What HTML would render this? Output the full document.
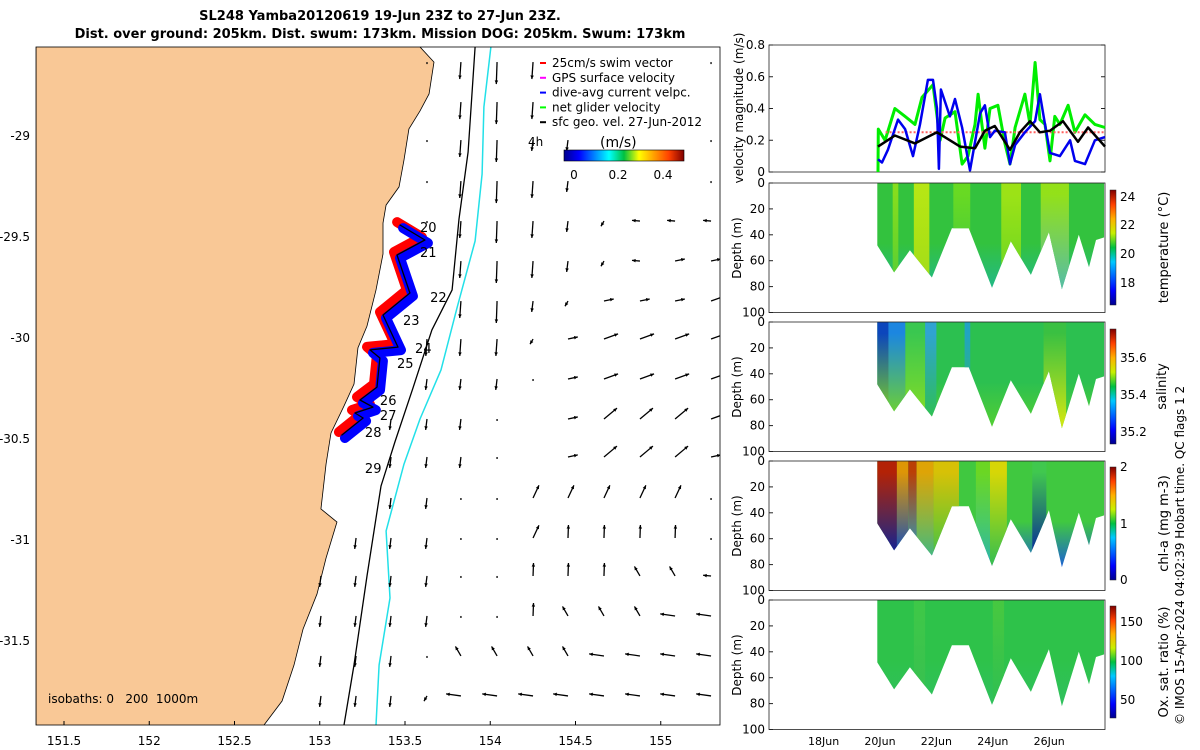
<!DOCTYPE html>
<html><head><meta charset="utf-8"><style>
html,body{margin:0;padding:0;background:#fff;}
svg{display:block;font-family:"DejaVu Sans","Liberation Sans",sans-serif;}
</style></head><body>
<svg id="s" width="1200" height="750" viewBox="0 0 1200 750" xmlns="http://www.w3.org/2000/svg">
<defs>
<linearGradient id="jet" x1="0" x2="1" y1="0" y2="0">
<stop offset="0" stop-color="#00008f"/><stop offset="0.125" stop-color="#0000ff"/><stop offset="0.375" stop-color="#00ffff"/><stop offset="0.5" stop-color="#00c040"/><stop offset="0.625" stop-color="#ffff00"/><stop offset="0.875" stop-color="#ff4000"/><stop offset="1" stop-color="#800000"/></linearGradient>
<linearGradient id="jetv" x1="0" x2="0" y1="1" y2="0">
<stop offset="0" stop-color="#00008f"/><stop offset="0.125" stop-color="#0000ff"/><stop offset="0.375" stop-color="#00c8ff"/><stop offset="0.5" stop-color="#00c040"/><stop offset="0.625" stop-color="#c8f000"/><stop offset="0.75" stop-color="#ffb000"/><stop offset="0.875" stop-color="#ff4000"/><stop offset="1" stop-color="#800000"/></linearGradient>
<clipPath id="mapclip"><rect x="36" y="47" width="684" height="678"/></clipPath>
</defs>
<text x="380" y="20" text-anchor="middle" font-size="13" font-weight="bold">SL248 Yamba20120619 19-Jun 23Z to 27-Jun 23Z.</text>
<text x="380" y="38" text-anchor="middle" font-size="13" font-weight="bold">Dist. over ground: 205km. Dist. swum: 173km. Mission DOG: 205km. Swum: 173km</text>
<g id="map" clip-path="url(#mapclip)"></g>
<g id="right"></g>
</svg>
<script>
const NS="http://www.w3.org/2000/svg";
// ---- map data ----
const lonTicks=[151.5,152,152.5,153,153.5,154,154.5,155];
const latTicks=[-29,-29.5,-30,-30.5,-31,-31.5];
const coastLon=[153.588,153.670,153.641,153.588,153.523,153.494,153.465,153.389,153.371,153.371,153.330,153.277,153.224,153.201,153.142,153.066,153.037,153.007,153.101,153.037,152.984,152.902,152.849,152.779,152.673];
const coastLat=[-28.564,-28.639,-28.797,-28.881,-28.970,-29.124,-29.257,-29.347,-29.436,-29.589,-29.767,-29.946,-30.054,-30.233,-30.342,-30.475,-30.629,-30.851,-30.916,-31.094,-31.272,-31.446,-31.624,-31.802,-31.921];
const iso200Lon=[153.911,153.870,153.817,153.776,153.658,153.547,153.441,153.359,153.277,153.201,153.142];
const iso200Lat=[-28.564,-29.084,-29.416,-29.767,-29.965,-30.252,-30.520,-30.738,-31.183,-31.624,-31.921];
const iso1000Lon=[154.004,153.963,153.952,153.911,153.805,153.711,153.588,153.494,153.389,153.412,153.348,153.330];
const iso1000Lat=[-28.564,-28.861,-29.193,-29.525,-29.856,-30.163,-30.406,-30.629,-30.960,-31.292,-31.624,-31.921];
const trackLon=[153.471,153.617,153.453,153.529,153.371,153.459,153.295,153.353,153.336,153.236,153.312,153.207,153.254,153.130];
const trackLat=[-29.446,-29.520,-29.594,-29.782,-29.891,-30.050,-30.064,-30.104,-30.248,-30.312,-30.347,-30.376,-30.401,-30.485];
const dayLabels=["20","21","22","23","24","25","26","27","28","29"];
const dayLon=[153.588,153.588,153.647,153.488,153.559,153.453,153.353,153.353,153.265,153.265];
const dayLat=[-29.480,-29.604,-29.827,-29.941,-30.079,-30.153,-30.337,-30.411,-30.495,-30.673];
const vecLon=[153.007,153.213,153.418,153.629,153.828,154.040,154.251,154.456,154.667,154.878,155.084,155.295];
const vecLat=[-28.639,-28.837,-29.025,-29.228,-29.426,-29.624,-29.822,-30.010,-30.208,-30.406,-30.594,-30.797,-30.995,-31.183,-31.381,-31.579,-31.777];
const vecCodes=["...oMLM....o","....MLM.....","...oMLss...o","...oMLMs...o","...oMLMsvwww","....MLMsvwee","....MLsveeeE","...MMMveEEEE","...sssoeEEEE","..ssso.eNNNE","..ssso.eNNNe","..ssoonnnnno",".sssoonuuuuo","ssssoouuuxxw","ssssoouxxxWW","sssoxxxxWWWW","sssvWWWWWWWW"];
const codeAng={o:[90,2],L:[92,22],M:[94,17],s:[97,11],v:[120,6],w:[185,8],e:[-12,10],E:[-20,15],N:[-40,17],n:[-65,14],u:[-88,13],x:[-120,11],W:[188,15]};
// ---- time-series data ----
const timeTicks=[18,20,22,24,26];
const velTicks=[0,0.2,0.4,0.6,0.8];
const blackT=[19.93,20.53,21.24,22.02,22.84,23.37,23.72,24.07,24.61,24.96,25.32,25.67,26.03,26.49,27.02,27.38,27.98];
const blackV=[0.16,0.23,0.18,0.25,0.16,0.15,0.26,0.29,0.14,0.25,0.32,0.25,0.26,0.32,0.19,0.28,0.16];
const blueT=[19.93,20.07,20.28,20.64,20.89,21.17,21.42,21.70,21.88,22.02,22.09,22.16,22.48,22.66,22.91,23.19,23.55,23.72,23.90,24.07,24.43,24.61,24.79,25.14,25.50,25.67,25.85,26.03,26.38,26.74,26.91,27.27,27.62,27.98];
const blueV=[0.08,0.06,0.14,0.33,0.27,0.10,0.30,0.58,0.58,0.40,0.02,0.52,0.35,0.46,0.28,0.01,0.37,0.42,0.22,0.26,0.25,0.05,0.17,0.25,0.32,0.49,0.30,0.12,0.10,0.20,0.07,0.05,0.20,0.22];
const greenT=[19.93,19.94,20.18,20.53,20.89,21.24,21.49,21.88,22.13,22.31,22.66,22.91,23.12,23.37,23.48,23.72,23.90,24.18,24.43,24.61,24.79,25.14,25.32,25.50,25.67,25.85,26.03,26.20,26.38,26.67,26.91,27.27,27.62,27.98];
const greenV=[0.00,0.27,0.20,0.40,0.35,0.30,0.47,0.55,0.20,0.34,0.38,0.05,0.10,0.30,0.49,0.15,0.40,0.42,0.18,0.05,0.28,0.49,0.30,0.69,0.33,0.30,0.07,0.35,0.30,0.42,0.25,0.36,0.30,0.28];
const swimV=0.25;
const profT=[19.9,20.5,21.06,21.84,22.55,23.15,23.97,24.64,25.35,25.99,26.45,27.05,27.41,27.66,27.95];
const profD=[48,69,52,73,35,35,81,45,71,38,82,40,65,44,42];
const depthTicks=[0,20,40,60,80,100];

const svg=document.getElementById('s');
const map=document.getElementById('map');
const right=document.getElementById('right');
function el(tag,attrs,parent,txt){const e=document.createElementNS(NS,tag);for(const k in attrs)e.setAttribute(k,attrs[k]);if(txt!==undefined)e.textContent=txt;(parent||svg).appendChild(e);return e;}
const X=lon=>64+(lon-151.5)*170.5;
const Y=lat=>135+(-29-lat)*202;
el('rect',{x:36,y:47,width:684,height:678,fill:'#fff',},map);
let pts='36,40 '+X(coastLon[0])+',40 ';for(let i=0;i<coastLon.length;i++)pts+=X(coastLon[i])+','+Y(coastLat[i])+' ';pts+=X(coastLon[coastLon.length-1])+',740 36,740';
el('polygon',{points:pts,fill:'#f9c896',stroke:'#000','stroke-width':0.8,},map);
function line(lons,lats,stroke,w,name){let d='';for(let i=0;i<lons.length;i++)d+=(i?'L':'M')+X(lons[i]).toFixed(1)+' '+Y(lats[i]).toFixed(1);const p=el('path',{d:d,fill:'none',stroke:stroke,'stroke-width':w,'stroke-linejoin':'round','stroke-linecap':'round'},map);return p;}
line(iso200Lon,iso200Lat,'#000',1.3,'isobath-200m');
line(iso1000Lon,iso1000Lat,'#22e0e8',1.5,'isobath-1000m');
for(let r=0;r<vecLat.length;r++){for(let c=0;c<vecLon.length;c++){const ch=vecCodes[r][c];if(ch==='.')continue;const a=codeAng[ch];const x0=X(vecLon[c]),y0=Y(vecLat[r]);const ang=a[0]*Math.PI/180;const x1=x0+a[1]*Math.cos(ang),y1=y0+a[1]*Math.sin(ang);
const g=el('g',{},map);
el('line',{x1:x0,y1:y0,x2:x1,y2:y1,stroke:'#000','stroke-width':1.3},g);
if(a[1]>4){const h=4,ha=0.45;el('polygon',{points:`${x1},${y1} ${x1-h*Math.cos(ang-ha)},${y1-h*Math.sin(ang-ha)} ${x1-h*Math.cos(ang+ha)},${y1-h*Math.sin(ang+ha)}`,fill:'#000'},g);}}}
line(trackLon,trackLat,'#ff0000',10,'swim-track-red').setAttribute('transform','translate(-3,-3)');
line(trackLon,trackLat,'#0000ff',10,'dive-avg-track-blue').setAttribute('transform','translate(3,3)');
line(trackLon,trackLat,'#000',1.3,'glider-track');
for(let i=0;i<dayLabels.length;i++){const t=el('text',{x:X(dayLon[i]),y:Y(dayLat[i]),'font-size':13},map,dayLabels[i]);}
const legItems=[['#ff0000','25cm/s swim vector'],['#ff00ff','GPS surface velocity'],['#0000ff','dive-avg current velpc.'],['#00ff00','net glider velocity'],['#000','sfc geo. vel. 27-Jun-2012']];
legItems.forEach((it,i)=>{const y=63+i*14.8;const g=el('g',{},svg);el('line',{x1:540,x2:546,y1:y,y2:y,stroke:it[0],'stroke-width':2},g);el('text',{x:552,y:y+4,'font-size':12},g,it[1]);});
el('text',{x:528,y:146,'font-size':12,},svg,'4h');
el('text',{x:600,y:147,'font-size':14,},svg,'(m/s)');
el('rect',{x:564,y:150,width:120,height:11,fill:'url(#jet)',stroke:'#000','stroke-width':0.6,},svg);
[['0',574],['0.2',618],['0.4',663]].forEach(a=>el('text',{x:a[1],y:179,'font-size':12,'text-anchor':'middle',},svg,a[0]));
el('text',{x:48,y:703,'font-size':12,},svg,'isobaths: 0\u00a0\u00a0\u00a0200\u00a0\u00a01000m');
el('rect',{x:36,y:47,width:684,height:678,fill:'none',stroke:'#000','stroke-width':0.8,},svg);
lonTicks.forEach(v=>{const t=el('text',{x:X(v),y:745,'font-size':12,'text-anchor':'middle'},svg,String(v));el('line',{x1:X(v),x2:X(v),y1:725,y2:721,stroke:'#000'},svg);});
latTicks.forEach(v=>{const t=el('text',{x:30,y:Y(v)+5,'font-size':12,'text-anchor':'end'},svg,String(v));});
// ---- right panels ----
const TX=d=>880+(d-20)*28.2;
const PL=769,PR=1105;
const VY=v=>172-v*158.75;
el('rect',{x:PL,y:45,width:PR-PL,height:127,fill:'#fff',stroke:'#222','stroke-width':0.8,},right);
velTicks.forEach(v=>{const t=el('text',{x:765,y:VY(v)+4,'font-size':12,'text-anchor':'end'},right,String(v));el('line',{x1:PL,x2:PL+4,y1:VY(v),y2:VY(v),stroke:'#222'},right);el('line',{x1:PR,x2:PR-4,y1:VY(v),y2:VY(v),stroke:'#222'},right);});
el('text',{transform:'translate(743,108) rotate(-90)','font-size':12,'text-anchor':'middle',},right,'velocity magnitude (m/s)');
function series(T,V,stroke,w,name,dash){let d='';for(let i=0;i<T.length;i++)d+=(i?'L':'M')+TX(T[i]).toFixed(1)+' '+VY(V[i]).toFixed(1);const p=el('path',{d:d,fill:'none',stroke:stroke,'stroke-width':w,'stroke-linejoin':'round'},right);if(dash)p.setAttribute('stroke-dasharray',dash);}
series(greenT,greenV,'#00ee00',3,'net-glider-velocity-line');
series([20.2,27.98],[swimV,swimV],'#ff6060',2,'swim-velocity-line','2,2');
series(blueT,blueV,'#0000ee',2.5,'dive-avg-velocity-line');
series(blackT,blackV,'#000',2.5,'surface-geostrophic-line');
const panels=[
 {top:183,name:'temperature',label:'temperature (°C)',cb:[190,305],ticks:[['24',197],['22',225],['20',254],['18',283]],base:'#33c23e',deep:'#20b890',
  bands:[[20.45,20.65,'#8fe01a','#5cd030'],[21.2,21.75,'#c4ea10','#b0e010'],[22.6,23.2,'#6edc20','#40c840'],[24.3,25.0,'#a8e612','#70d820'],[25.7,26.7,'#9ee415','#60c0a0']]},
 {top:322,name:'salinity',label:'salinity',cb:[329,444],ticks:[['35.6',358],['35.4',395],['35.2',432]],base:'#2cc050',deep:'#58d030',
  bands:[[19.9,20.3,'#0838c8','#90e010'],[20.3,20.9,'#1a80f0','#7ad820'],[20.9,21.6,'#3cc850','#90e020'],[21.6,22.0,'#30a0e0','#2cc050'],[23.0,23.2,'#20a0d0','#30c050'],[25.8,26.6,'#3cc040','#d8e810']]},
 {top:461,name:'chl-a',label:'chl-a (mg m-3)',cb:[467,580],ticks:[['2',467],['1',524],['0',580]],base:'#40c840',deep:'#1858e0',
  bands:[[19.9,20.6,'#c01000','#0018a0'],[20.6,21.0,'#f09000','#0040d0'],[21.0,21.3,'#c83000','#20a0d0'],[21.3,21.9,'#f0a000','#40c080'],[21.9,22.8,'#e8c000','#40c840'],[23.4,23.9,'#70d820','#30c0a0'],[23.9,24.5,'#e8d800','#40c840'],[25.4,25.9,'#40c850','#0010a0']]},
 {top:600,name:'oxygen',label:'Ox. sat. ratio (%)',cb:[606,718],ticks:[['150',622],['100',661],['50',700]],base:'#2ec24a',deep:'#30c060',bands:[[21.2,21.6,'#40c848','#38c050'],[24.0,24.4,'#48c840','#30c050']]}];
const defs=svg.querySelector('defs');
panels.forEach((P,pi)=>{
 const DY=d=>P.top+d*1.295;
 const g=el('g',{},right);
 const cp=el('clipPath',{id:'cp'+pi},defs);
 let pp=TX(profT[0])+','+P.top+' ';profT.forEach((t,i)=>pp+=TX(t).toFixed(1)+','+DY(profD[i]).toFixed(1)+' ');pp+=TX(profT[profT.length-1])+','+P.top;
 el('polygon',{points:pp},cp);
 const lg=el('linearGradient',{id:'bg'+pi,x1:0,x2:0,y1:0,y2:1},defs);el('stop',{offset:0.55,'stop-color':P.base},lg);el('stop',{offset:1,'stop-color':P.deep},lg);
 const cg=el('g',{'clip-path':'url(#cp'+pi+')'},g);
 el('rect',{x:TX(profT[0]),y:P.top,width:TX(profT[profT.length-1])-TX(profT[0]),height:110,fill:'url(#bg'+pi+')'},cg);
 P.bands.forEach((b,bi)=>{const id='b'+pi+'_'+bi;const gg=el('linearGradient',{id:id,x1:0,x2:0,y1:0,y2:1},defs);el('stop',{offset:0.1,'stop-color':b[2]},gg);el('stop',{offset:0.9,'stop-color':b[3]},gg);
  const r=el('rect',{x:TX(b[0]),y:P.top,width:TX(b[1])-TX(b[0]),height:110,fill:'url(#'+id+')',opacity:0.9},cg);});
 el('rect',{x:PL,y:P.top,width:PR-PL,height:129.5,fill:'none',stroke:'#222','stroke-width':0.8},g);
 depthTicks.forEach(d=>{const t=el('text',{x:765,y:DY(d)+4,'font-size':12,'text-anchor':'end'},g,String(d));el('line',{x1:PL,x2:PL+4,y1:DY(d),y2:DY(d),stroke:'#222'},g);});
 el('text',{transform:`translate(741,${P.top+65}) rotate(-90)`,'font-size':12,'text-anchor':'middle',},g,'Depth (m)');
 const cb=el('rect',{x:1110,y:P.cb[0],width:6,height:P.cb[1]-P.cb[0],fill:'url(#jetv)',stroke:'#222','stroke-width':0.5},g);
 P.ticks.forEach(t=>{const tt=el('text',{x:1120,y:t[1]+4,'font-size':12},g,t[0]);});
 el('text',{transform:`translate(${pi===1?1166:1168},${(P.cb[0]+P.cb[1])/2}) rotate(-90)`,'font-size':13,'text-anchor':'middle',},g,P.label);
});
timeTicks.forEach(d=>{const t=el('text',{x:TX(d),y:745,'font-size':11,'text-anchor':'middle'},right,d+'Jun');});
el('text',{transform:'translate(1184,725) rotate(-90)','font-size':12,},right,'© IMOS 15-Apr-2024 04:02:39 Hobart time. QC flags 1  2');
</script>
</body></html>
